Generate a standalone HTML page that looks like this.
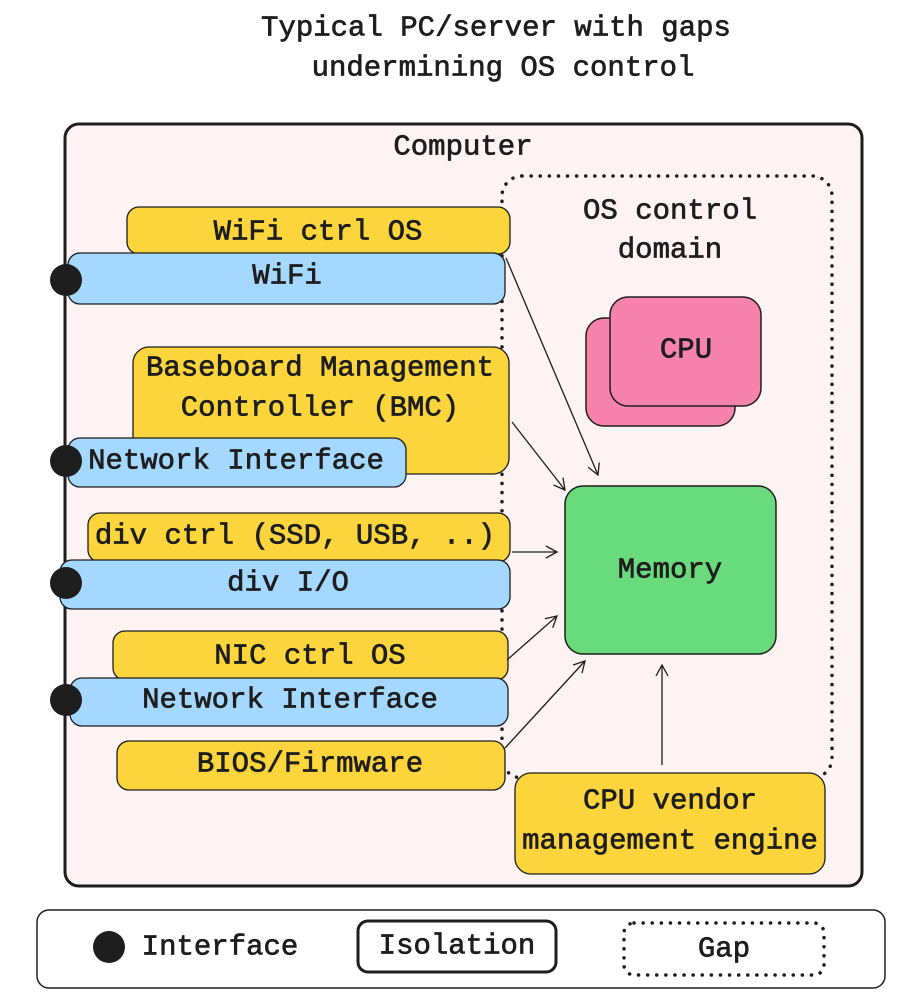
<!DOCTYPE html>
<html><head><meta charset="utf-8"><style>
html,body{margin:0;padding:0;background:#fff;}
svg{display:block;}
text{font-family:"Liberation Mono","DejaVu Sans Mono",monospace;fill:#1e1e1e;stroke:#1e1e1e;stroke-width:0.7px;text-anchor:middle;dominant-baseline:central;font-size:29px;}
</style></head><body>
<svg width="909" height="1000" viewBox="0 0 909 1000" xmlns="http://www.w3.org/2000/svg">
<defs><marker id="a" markerWidth="14" markerHeight="14" refX="12" refY="7" orient="auto" markerUnits="userSpaceOnUse"><path d="M1,1 L12,7 L1,13" fill="none" stroke="#1e1e1e" stroke-width="1.3"/></marker></defs>
<text x="496" y="28">Typical PC/server with gaps</text>
<text x="503" y="68">undermining OS control</text>

<rect x="65" y="124" width="797" height="762" rx="14" fill="#fdf3f2" stroke="#1e1e1e" stroke-width="3"/>
<text x="463" y="147">Computer</text>

<rect x="502" y="176" width="330" height="602" rx="20" fill="none" stroke="#1e1e1e" stroke-width="3.5" stroke-dasharray="0.1 9" stroke-linecap="round"/>
<text x="670" y="211">OS control</text>
<text x="670" y="250">domain</text>

<rect x="586" y="318" width="149" height="108" rx="18" fill="#f783ac" stroke="#1e1e1e" stroke-width="1.5"/>
<rect x="610" y="297" width="151" height="109" rx="18" fill="#f783ac" stroke="#1e1e1e" stroke-width="1.5"/>
<text x="686" y="350">CPU</text>

<rect x="565" y="486" width="211" height="168" rx="18" fill="#69db7c" stroke="#1e1e1e" stroke-width="1.5"/>
<text x="670" y="570">Memory</text>

<g stroke="#1e1e1e" stroke-width="1.3">
<rect x="127" y="207" width="383" height="47" rx="12" fill="#fcd43b"/>
<rect x="68" y="253" width="437" height="51" rx="12" fill="#a5d8ff"/>
<rect x="133" y="347" width="376" height="127" rx="16" fill="#fcd43b"/>
<rect x="68" y="438" width="338" height="49" rx="12" fill="#a5d8ff"/>
<rect x="88" y="513" width="422" height="49" rx="12" fill="#fcd43b"/>
<rect x="60" y="560" width="450" height="49" rx="12" fill="#a5d8ff"/>
<rect x="113" y="631" width="395" height="49" rx="12" fill="#fcd43b"/>
<rect x="70" y="678" width="438" height="48" rx="12" fill="#a5d8ff"/>
<rect x="117" y="741" width="388" height="49" rx="12" fill="#fcd43b"/>
<rect x="515" y="773" width="310" height="101" rx="16" fill="#fcd43b"/>
</g>
<text x="318" y="232">WiFi ctrl OS</text>
<text x="287" y="276">WiFi</text>
<text x="320" y="368">Baseboard Management</text>
<text x="320" y="408">Controller (BMC)</text>
<text x="236" y="461">Network Interface</text>
<text x="295" y="536">div ctrl (SSD, USB, ..)</text>
<text x="288" y="583">div I/O</text>
<text x="310" y="656">NIC ctrl OS</text>
<text x="290" y="700">Network Interface</text>
<text x="310" y="764">BIOS/Firmware</text>
<text x="670" y="801">CPU vendor</text>
<text x="670" y="841">management engine</text>

<g fill="#1e1e1e">
<circle cx="66" cy="280" r="16"/><circle cx="66" cy="461" r="16"/><circle cx="66" cy="583" r="16"/><circle cx="66" cy="700" r="16"/>
</g>

<g stroke="#1e1e1e" stroke-width="1.3" fill="none" marker-end="url(#a)">
<line x1="506" y1="258" x2="598" y2="475"/>
<line x1="512" y1="422" x2="565" y2="490"/>
<line x1="512" y1="552" x2="557" y2="552"/>
<line x1="507" y1="660" x2="557" y2="616"/>
<line x1="505" y1="748" x2="585" y2="661"/>
<line x1="662" y1="765" x2="662" y2="665"/>
</g>

<rect x="37" y="910" width="848" height="78" rx="12" fill="#fff" stroke="#1e1e1e" stroke-width="1.5"/>
<circle cx="109" cy="947" r="16" fill="#1e1e1e"/>
<text x="220" y="947">Interface</text>
<rect x="358" y="921" width="198" height="51" rx="10" fill="#fff" stroke="#1e1e1e" stroke-width="3"/>
<text x="457" y="946">Isolation</text>
<rect x="624" y="923" width="200" height="52" rx="10" fill="none" stroke="#1e1e1e" stroke-width="3.5" stroke-dasharray="0.1 9" stroke-linecap="round"/>
<text x="724" y="949">Gap</text>
</svg>
</body></html>
